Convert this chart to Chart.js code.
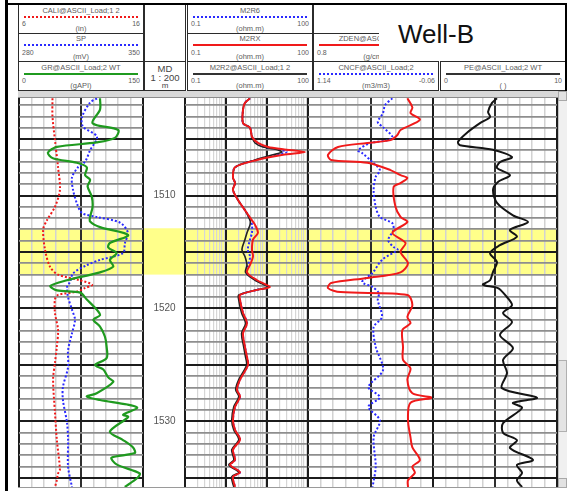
<!DOCTYPE html>
<html>
<head>
<meta charset="utf-8">
<title>Well-B</title>
<script src="https://cdn.jsdelivr.net/npm/chart.js@4.4.1/dist/chart.umd.min.js"></script>
<style>
  html, body { margin: 0; padding: 0; background: #fff; }
  #log { position: relative; width: 573px; height: 491px; overflow: hidden; font-family: "Liberation Sans", Arial, sans-serif; }
  .box { position: absolute; box-sizing: border-box; border: 1.5px solid #2b2b2b; background: #fff; overflow: hidden; }
  .ttl, .unit { position: absolute; left: 0; right: 0; text-align: center; font-size: 7.5px; line-height: 8px; color: #5c5c5c; white-space: nowrap; }
  .lo, .hi { position: absolute; font-size: 7px; line-height: 8px; color: #5c5c5c; }
  .lo { left: 3px; }
  .hi { right: 3px; }
  .swatch { position: absolute; left: 5px; right: 5px; height: 0; }
  .bar { position: absolute; }
  canvas { position: absolute; }
</style>
</head>
<body>
<div id="log"></div>
<script>
// depth window and highlighted zone (m)
const depthTop = 1501.37;
const depthBase = 1535.8;
const zoneTop = 1512.9;
const zoneBase = 1517.0;
const depthLabels = [1510, 1520, 1530];

// track 1: caliper, SP, gamma ray
const grDepth = [1501.4, 1502.4, 1503.6, 1504.2, 1504.9, 1505.3, 1505.7, 1506.2, 1506.7, 1507.1, 1507.5, 1508.2, 1508.6, 1509.2, 1510.1, 1511.0, 1511.9, 1512.3, 1512.8, 1513.5, 1514.2, 1514.6, 1515.1, 1515.7, 1516.3, 1516.8, 1517.5, 1518.0, 1518.4, 1518.6, 1519.2, 1520.1, 1520.6, 1521.0, 1521.6, 1522.5, 1523.4, 1524.4, 1525.0, 1525.4, 1526.1, 1526.5, 1527.5, 1527.8, 1528.1, 1528.5, 1528.8, 1529.4, 1529.6, 1530.9, 1531.6, 1532.3, 1532.8, 1533.2, 1533.8, 1534.6, 1535.0, 1535.8];
const grValue = [98, 98, 89, 120, 116, 94, 46, 35, 41, 70, 82, 80, 86, 83, 88, 89, 86, 86, 98, 132, 110, 108, 118, 110, 114, 98, 58, 38, 46, 74, 82, 94, 98, 90, 98, 104, 106, 106, 92, 102, 108, 114, 94, 82, 98, 131, 143, 126, 132, 110, 125, 138, 140, 112, 118, 146, 143, 128];

const caliDepth = [1501.4, 1503.0, 1505.1, 1507.5, 1509.5, 1511.0, 1512.2, 1513.0, 1514.8, 1516.3, 1517.0, 1517.5, 1517.9, 1518.2, 1518.5, 1518.8, 1519.2, 1520.4, 1521.9, 1523.4, 1524.8, 1526.3, 1529.2, 1531.6, 1534.3, 1534.6, 1535.2, 1535.8];
const caliValue = [8.7, 8.7, 8.9, 9.15, 9.3, 8.9, 8.25, 7.95, 8.1, 8.5, 9.15, 10.9, 11.9, 11.3, 10.7, 9.15, 8.9, 8.9, 9.15, 9.05, 8.9, 8.75, 8.9, 9.05, 9.3, 9.15, 9.05, 8.9];

const spDepth = [1501.4, 1501.8, 1503.05, 1503.9, 1504.8, 1506.0, 1507.0, 1507.5, 1508.4, 1509.5, 1510.7, 1511.55, 1511.9, 1512.4, 1513.3, 1514.2, 1515.1, 1515.7, 1516.15, 1516.9, 1517.65, 1518.1, 1519.0, 1520.1, 1521.0, 1522.2, 1523.7, 1525.2, 1526.95, 1528.1, 1530.1, 1531.6, 1534.0, 1535.8];
const spValue = [324, 320, 315.6, 316.1, 324, 320.1, 317.3, 313.3, 309.9, 310.5, 312.7, 315.6, 324, 337, 341.5, 339.8, 338.7, 325.7, 318.4, 310.5, 308.8, 307.1, 307.7, 309.9, 311.6, 309.9, 307.7, 307.7, 304.8, 304.8, 307.1, 307.7, 307.7, 309.9];

// track 2: resistivities (log)
const resDepth = [1501.4, 1501.8, 1502.4, 1503.6, 1504.0, 1504.8, 1505.35, 1505.7, 1505.9, 1506.15, 1506.4, 1506.85, 1507.5, 1508.4, 1508.9, 1509.5, 1510.4, 1511.3, 1512.2, 1512.6, 1513.3, 1513.9, 1514.8, 1515.4, 1516.15, 1516.8, 1517.5, 1518.1, 1518.35, 1518.8, 1519.25, 1520.4, 1521.3, 1522.2, 1523.4, 1524.3, 1525.0, 1526.3, 1527.2, 1527.8, 1528.7, 1529.9, 1530.75, 1531.6, 1532.5, 1533.4, 1533.85, 1534.5, 1534.9, 1535.8];
const m2rxValue = [3.85, 2.9, 2.6, 2.6, 3.85, 4.3, 6.0, 10.6, 24.6, 84, 24.6, 5.7, 1.66, 1.48, 1.66, 1.48, 1.96, 2.9, 4.3, 5.1, 6.0, 4.55, 4.3, 4.55, 3.85, 3.25, 5.7, 11.8, 5.7, 2.2, 2.2, 2.6, 3.25, 2.6, 2.9, 3.25, 3.44, 2.2, 1.85, 2.2, 1.66, 1.48, 1.66, 2.2, 1.48, 1.66, 1.25, 2.2, 1.48, 1.66];
const m2r2Value = [3.85, 2.9, 2.6, 2.6, 3.85, 4.3, 5.1, 8.0, 16, 23, 14, 5.1, 1.66, 1.48, 1.66, 1.48, 1.96, 2.9, 3.85, 3.85, 3.25, 2.9, 2.45, 2.9, 3.25, 3.0, 5.1, 10.6, 5.7, 2.05, 2.05, 2.4, 3.0, 2.4, 2.7, 3.0, 3.2, 2.05, 1.72, 2.05, 1.55, 1.38, 1.55, 2.05, 1.38, 1.55, 1.17, 2.05, 1.38, 1.55];
const m2r6Value = [3.85, 2.9, 2.6, 2.6, 3.85, 4.3, 5.7, 9.0, 18, 30, 16, 5.4, 1.66, 1.48, 1.66, 1.48, 1.96, 2.9, 4.0, 4.3, 4.3, 3.85, 3.4, 3.85, 3.5, 3.1, 5.4, 11.0, 5.7, 2.2, 2.2, 2.6, 3.25, 2.6, 2.9, 3.25, 3.44, 2.2, 1.85, 2.2, 1.66, 1.48, 1.66, 2.2, 1.48, 1.66, 1.25, 2.2, 1.48, 1.66];

// track 3: density and neutron
const zdenDepth = [1501.4, 1502.2, 1502.7, 1503.3, 1504.2, 1504.65, 1505.1, 1505.35, 1505.7, 1506.4, 1506.85, 1507.1, 1507.75, 1508.2, 1508.45, 1508.9, 1509.25, 1511.0, 1511.9, 1512.35, 1513.3, 1514.2, 1515.0, 1516.0, 1516.8, 1517.3, 1517.75, 1518.2, 1518.55, 1518.8, 1519.7, 1520.75, 1521.3, 1521.9, 1523.4, 1524.55, 1525.3, 1526.3, 1527.5, 1527.9, 1528.35, 1529.9, 1531.4, 1532.3, 1533.4, 1534.0, 1534.55, 1535.2, 1535.8];
const zdenValue = [2.39, 2.47, 2.44, 2.59, 2.28, 2.23, 2.12, 1.75, 1.28, 1.12, 1.17, 1.75, 2.12, 2.28, 2.39, 2.28, 2.17, 2.2, 2.28, 2.39, 2.15, 2.36, 2.28, 2.4, 2.28, 1.75, 1.17, 1.12, 1.32, 2.39, 2.47, 2.39, 2.44, 2.31, 2.32, 2.32, 2.44, 2.39, 2.47, 2.78, 2.44, 2.4, 2.44, 2.47, 2.59, 2.47, 2.51, 2.4, 2.4];

const cncfDepth = [1501.4, 1502.0, 1502.7, 1503.5, 1503.95, 1504.8, 1505.1, 1505.35, 1506.0, 1506.25, 1507.05, 1507.75, 1508.35, 1509.5, 1511.0, 1511.9, 1512.45, 1513.05, 1513.95, 1514.55, 1514.8, 1515.7, 1516.85, 1517.65, 1518.1, 1518.65, 1519.25, 1520.75, 1521.65, 1523.4, 1525.45, 1526.95, 1527.85, 1528.7, 1529.9, 1531.4, 1534.0, 1535.8];
const cncfValue = [0.33, 0.40, 0.42, 0.47, 0.42, 0.33, 0.37, 0.54, 0.66, 0.62, 0.52, 0.45, 0.49, 0.51, 0.49, 0.45, 0.33, 0.32, 0.37, 0.32, 0.28, 0.43, 0.52, 0.62, 0.52, 0.46, 0.47, 0.43, 0.51, 0.49, 0.42, 0.56, 0.45, 0.56, 0.45, 0.51, 0.49, 0.52];

// track 4: photoelectric factor
const peDepth = [1501.4, 1501.8, 1502.6, 1503.05, 1503.6, 1504.45, 1505.25, 1505.55, 1505.95, 1506.6, 1507.05, 1507.55, 1508.2, 1508.8, 1509.5, 1510.65, 1511.75, 1512.35, 1513.05, 1513.65, 1514.4, 1515.1, 1515.9, 1516.75, 1517.5, 1517.9, 1518.2, 1518.8, 1519.7, 1520.4, 1521.2, 1522.35, 1523.5, 1524.55, 1525.7, 1527.05, 1527.9, 1528.35, 1528.8, 1530.15, 1531.0, 1531.65, 1532.35, 1533.4, 1533.85, 1534.55, 1535.2, 1535.8];
const peValue = [5.16, 4.76, 4.44, 4.6, 3.79, 2.74, 2.02, 2.18, 4.84, 6.37, 5.4, 5.16, 6.21, 5.24, 4.84, 5.16, 6.45, 7.66, 6.21, 6.77, 5.4, 4.6, 5.16, 4.84, 4.6, 4.03, 5.24, 5.81, 6.37, 5.65, 6.37, 5.4, 6.45, 5.65, 5.97, 5.56, 8.39, 6.45, 7.18, 5.65, 5.65, 6.77, 6.21, 8.06, 6.77, 7.18, 6.77, 7.18];

const RED = '#f01a1a', BLUE = '#2a2aff', GREEN = '#1f9a1f', BLACK = '#151515';

const root = document.getElementById('log');

function el(cls, css, text) {
  const d = document.createElement('div');
  d.className = cls;
  Object.assign(d.style, css);
  if (text != null) d.textContent = text;
  return d;
}

function px(v) { return v + 'px'; }

// header cell with curve name, sample line, scale ends and unit
function headerCell(x, y, w, h, c) {
  const b = el('box', {left: px(x), top: px(y), width: px(w), height: px(h)});
  if (c) {
    b.appendChild(el('ttl', {top: '1.5px'}, c.title));
    const sw = el('swatch', {top: '10.5px'});
    sw.style.borderTop = (c.dash ? '2px dotted ' : '2.5px solid ') + c.color;
    b.appendChild(sw);
    b.appendChild(el('lo', {top: '15px'}, c.lo));
    b.appendChild(el('hi', {top: '15px'}, c.hi));
    b.appendChild(el('unit', {top: '19.5px'}, c.unit));
  }
  root.appendChild(b);
  return b;
}

const rowTop = [4, 32.5, 61];
const rowH = 29.5;

headerCell(18, rowTop[0], 126, rowH, {title: 'CALI@ASCII_Load;1 2', lo: '6', hi: '16', unit: '(in)', color: RED, dash: true});
headerCell(18, rowTop[1], 126, rowH, {title: 'SP', lo: '280', hi: '350', unit: '(mV)', color: BLUE, dash: true});
headerCell(18, rowTop[2], 126, rowH, {title: 'GR@ASCII_Load;2 WT', lo: '0', hi: '150', unit: '(gAPI)', color: GREEN});

headerCell(144, rowTop[0], 42, 58);
const md = headerCell(144, rowTop[2], 42, rowH);
md.appendChild(el('ttl', {top: '2px', fontSize: '9.5px', lineHeight: '10px', color: '#444'}, 'MD'));
md.appendChild(el('ttl', {top: '10.5px', fontSize: '9.5px', lineHeight: '10px', color: '#444'}, '1 : 200'));
md.appendChild(el('ttl', {top: '19px', fontSize: '8px', lineHeight: '9px', color: '#444'}, 'm'));

headerCell(187, rowTop[0], 126, rowH, {title: 'M2R6', lo: '0.1', hi: '100', unit: '(ohm.m)', color: BLUE, dash: true});
headerCell(187, rowTop[1], 126, rowH, {title: 'M2RX', lo: '0.1', hi: '100', unit: '(ohm.m)', color: RED});
headerCell(187, rowTop[2], 126, rowH, {title: 'M2R2@ASCII_Load;1 2', lo: '0.1', hi: '100', unit: '(ohm.m)', color: '#333'});

headerCell(313, rowTop[0], 126, rowH);
headerCell(313, rowTop[1], 126, rowH, {title: 'ZDEN@ASCII_Load;2', lo: '0.8', hi: '2.8', unit: '(g/cm3)', color: RED});
headerCell(313, rowTop[2], 126, rowH, {title: 'CNCF@ASCII_Load;2', lo: '1.14', hi: '-0.06', unit: '(m3/m3)', color: BLUE, dash: true});
headerCell(440, rowTop[2], 126, rowH, {title: 'PE@ASCII_Load;2 WT', lo: '0', hi: '10', unit: '( )', color: '#333'});

// title panel over the upper right header cells
const titleBox = el('bar', {left: '379px', top: '5px', width: '187px', height: '56px', background: '#fff'});
titleBox.appendChild(el('bar', {left: '19px', top: '14px', fontSize: '26px', lineHeight: '30px', color: '#111', whiteSpace: 'nowrap'}, 'Well-B'));
root.appendChild(titleBox);

// frame, ruler strip and scroll bar
root.appendChild(el('bar', {left: '18px', top: '90.5px', width: '548px', height: '6px', background: '#d8d8d8', borderBottom: '1px solid #8c8c8c'}));
root.appendChild(el('bar', {left: '557.5px', top: '97px', width: '8px', height: '390px', background: '#f0f0f0', borderLeft: '1px solid #c4c4c4'}));
root.appendChild(el('bar', {left: '558px', top: '91px', width: '7px', height: '8px', background: '#e2e2e2', border: '1px solid #a8a8a8'}));
root.appendChild(el('bar', {left: '558px', top: '360px', width: '7px', height: '70px', background: '#e4e4e4', border: '1px solid #b0b0b0'}));
root.appendChild(el('bar', {left: '558px', top: '478px', width: '7px', height: '8px', background: '#e2e2e2', border: '1px solid #a8a8a8'}));
root.appendChild(el('bar', {left: '5px', top: '0px', width: '2.5px', height: '491px', background: '#000'}));
root.appendChild(el('bar', {left: '5px', top: '3px', width: '562px', height: '2px', background: '#000'}));
root.appendChild(el('bar', {left: '564.5px', top: '3px', width: '2px', height: '88px', background: '#000'}));
root.appendChild(el('bar', {left: '18px', top: '487px', width: '540px', height: '1px', background: '#9a9a9a'}));

// yellow zone behind the grid
const zoneBand = {
  id: 'zoneBand',
  beforeDraw(chart) {
    const y = chart.scales.y, a = chart.chartArea, ctx = chart.ctx;
    const t = y.getPixelForValue(zoneTop), b = y.getPixelForValue(zoneBase);
    ctx.save();
    ctx.fillStyle = '#ffff8a';
    ctx.fillRect(a.left, t, a.right - a.left, b - t);
    ctx.restore();
  }
};

const gridDepths = [];
for (let d = Math.ceil(depthTop); d <= Math.floor(depthBase); d++) gridDepths.push(d);

function depthAxis(grid) {
  return {
    type: 'linear', reverse: true, min: depthTop, max: depthBase,
    display: grid,
    ticks: {display: false},
    border: {display: false},
    afterBuildTicks: s => { s.ticks = gridDepths.map(v => ({value: v})); },
    grid: {
      drawTicks: false,
      color: c => c.tick.value % 5 === 0 ? '#1c1c1c' : '#8e8e8e',
      lineWidth: c => c.tick.value % 5 === 0 ? 2 : 1.8
    }
  };
}

function linearAxis(min, max, reverse, grid) {
  return {
    type: 'linear', min: Math.min(min, max), max: Math.max(min, max), reverse: !!reverse,
    display: grid,
    ticks: {display: false},
    border: {display: false},
    afterBuildTicks: s => {
      const t = [];
      for (let i = 0; i <= 10; i++) t.push({value: s.min + (s.max - s.min) * i / 10});
      s.ticks = t;
    },
    grid: {
      drawTicks: false,
      color: c => (c.index === 0 || c.index === 10) ? '#1c1c1c' : c.index === 5 ? '#2e2e2e' : '#d2d2d2',
      lineWidth: c => c.index % 5 === 0 ? 2 : 1.5
    }
  };
}

function logAxis(min, max) {
  return {
    type: 'logarithmic', min, max,
    ticks: {display: false},
    border: {display: false},
    afterBuildTicks: s => {
      const t = [];
      for (let dec = min; dec < max; dec *= 10) {
        for (let m = 1; m <= 9; m++) t.push({value: +(dec * m).toPrecision(3)});
      }
      t.push({value: max});
      s.ticks = t;
    },
    grid: {
      drawTicks: false,
      color: c => {
        const l = Math.log10(c.tick.value);
        return Math.abs(l - Math.round(l)) < 1e-6 ? '#1c1c1c' : '#d6d6d6';
      },
      lineWidth: c => {
        const l = Math.log10(c.tick.value);
        return Math.abs(l - Math.round(l)) < 1e-6 ? 2 : 1.2;
      }
    }
  };
}

function curve(depth, value, color, width, dotted, axis) {
  return {
    data: depth.map((d, i) => ({x: value[i], y: d})),
    xAxisID: axis || 'x',
    showLine: true,
    pointRadius: 0,
    borderColor: color,
    borderWidth: width,
    borderDash: dotted ? [2, 2] : [],
    tension: 0.3,
    fill: false
  };
}

function track(left, width, datasets, scales) {
  const c = document.createElement('canvas');
  c.width = width + 4;
  c.height = 389;
  c.style.left = px(left - 2);
  c.style.top = '98px';
  root.appendChild(c);
  return new Chart(c, {
    type: 'scatter',
    data: {datasets},
    options: {
      responsive: false, animation: false, devicePixelRatio: 1, events: [],
      layout: {padding: {left: 2, right: 2, top: 0, bottom: 0}},
      plugins: {legend: {display: false}, tooltip: {enabled: false}},
      scales
    },
    plugins: [zoneBand]
  });
}

// depth column: zone colour and depth numbers only
const depthCanvas = document.createElement('canvas');
depthCanvas.width = 41;
depthCanvas.height = 389;
depthCanvas.style.left = '144px';
depthCanvas.style.top = '98px';
root.appendChild(depthCanvas);
new Chart(depthCanvas, {
  type: 'scatter',
  data: {datasets: []},
  options: {
    responsive: false, animation: false, devicePixelRatio: 1, events: [],
    plugins: {legend: {display: false}, tooltip: {enabled: false}},
    scales: {x: {display: false, min: 0, max: 1}, y: depthAxis(false)}
  },
  plugins: [zoneBand, {
    id: 'depthNumbers',
    afterDraw(chart) {
      const ctx = chart.ctx, y = chart.scales.y;
      ctx.save();
      ctx.font = '10px "Liberation Sans", Arial, sans-serif';
      ctx.fillStyle = '#555';
      ctx.textAlign = 'center';
      ctx.textBaseline = 'middle';
      depthLabels.forEach(d => ctx.fillText(String(d), chart.width / 2, y.getPixelForValue(d)));
      ctx.restore();
    }
  }]
});

track(19, 124, [
  curve(grDepth, grValue, GREEN, 2.2, false),
  curve(spDepth, spValue, BLUE, 2, true, 'xsp'),
  curve(caliDepth, caliValue, RED, 2, true, 'xcal')
], {
  x: linearAxis(0, 150, false, true),
  xsp: Object.assign(linearAxis(280, 350, false, false), {display: false}),
  xcal: Object.assign(linearAxis(6, 16, false, false), {display: false}),
  y: depthAxis(true)
});

track(185, 123, [
  curve(resDepth, m2rxValue, RED, 2, false),
  curve(resDepth, m2r2Value, '#222', 1.6, false),
  curve(resDepth, m2r6Value, BLUE, 2, true)
], {
  x: logAxis(0.1, 100),
  y: depthAxis(true)
});

track(308, 125, [
  curve(zdenDepth, zdenValue, RED, 2, false),
  curve(cncfDepth, cncfValue, BLUE, 2, true, 'xn')
], {
  x: linearAxis(0.8, 2.8, false, true),
  xn: Object.assign(linearAxis(-0.06, 1.14, true, false), {display: false}),
  y: depthAxis(true)
});

track(433, 124, [
  curve(peDepth, peValue, BLACK, 2, false)
], {
  x: linearAxis(0, 10, false, true),
  y: depthAxis(true)
});
</script>
</body>
</html>
